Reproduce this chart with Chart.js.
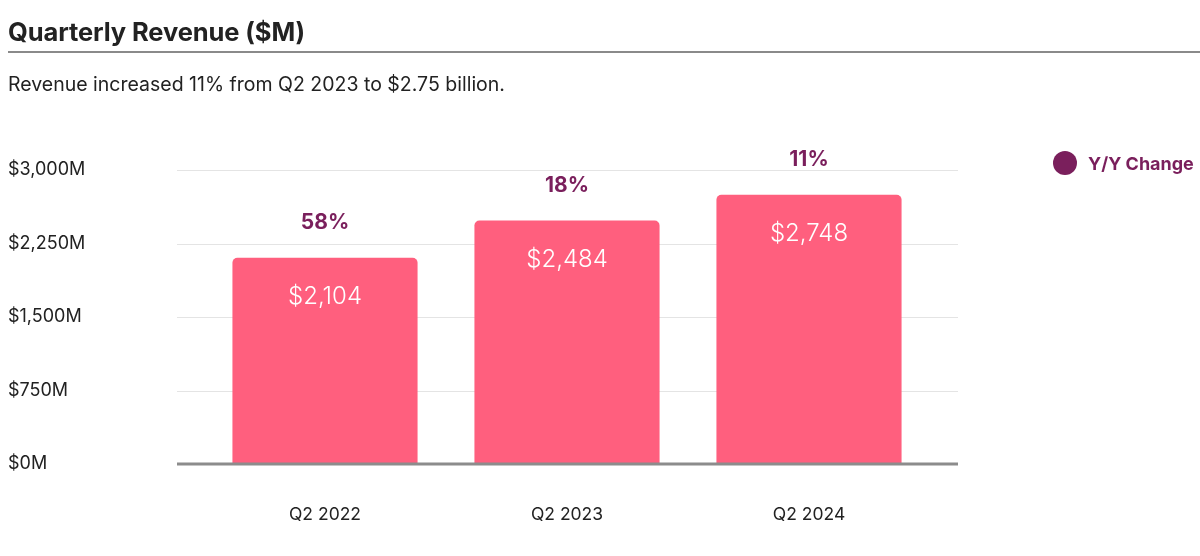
<!DOCTYPE html>
<html>
<head>
<meta charset="utf-8">
<script src="https://cdn.jsdelivr.net/npm/chart.js@4/dist/chart.umd.min.js"></script>
<style>
  html, body { margin: 0; padding: 0; background: #ffffff; width: 1200px; height: 556px; overflow: hidden; font-family: Inter, "Open Sans", sans-serif; }
  #wrap { position: relative; width: 1200px; height: 556px; }
  #title { position: absolute; left: 8px; top: 16px; font-size: 25.5px; font-weight: 700; color: #222222; letter-spacing: -0.1px; }
  #rule { position: absolute; left: 8px; right: 0; top: 51px; height: 2px; background: #8a8a8a; }
  #subtitle { position: absolute; left: 8px; top: 72px; font-size: 19.5px; color: #222222; }
  #legend { position: absolute; left: 1053px; top: 151px; display: flex; align-items: center; font-size: 18px; font-weight: 700; color: #7a1f5c; }
  #legend .dot { width: 24px; height: 24px; border-radius: 50%; background: #7a1f5c; margin-right: 11px; }
  canvas { position: absolute; left: 0; top: 0; }
</style>
</head>
<body>
<div id="wrap">
  <canvas id="c" width="1200" height="556"></canvas>
  <div id="title">Quarterly Revenue ($M)</div>
  <div id="rule"></div>
  <div id="subtitle">Revenue increased 11% from Q2 2023 to $2.75 billion.</div>
  <div id="legend"><span class="dot"></span>Y/Y Change</div>
</div>
<script>
const categories = ["Q2 2022", "Q2 2023", "Q2 2024"];
const revenue = [2104, 2484, 2748];
const yoyChange = [58, 18, 11];
const yTicks = [0, 750, 1500, 2250, 3000];

const FONT = "Inter, 'Open Sans', sans-serif";

const gridPlugin = {
  id: 'extendedGrid',
  beforeDatasetsDraw(chart) {
    const ctx = chart.ctx;
    const y = chart.scales.y;
    const a = chart.chartArea;
    const left = a.left - 27, right = a.right + 28;
    ctx.save();
    yTicks.forEach(v => {
      const py = Math.round(y.getPixelForValue(v)) + 0.5;
      if (v === 0) return;
      ctx.strokeStyle = '#e4e4e4';
      ctx.lineWidth = 1;
      ctx.beginPath(); ctx.moveTo(left, py); ctx.lineTo(right, py); ctx.stroke();
    });
    ctx.restore();
  },
  afterDatasetsDraw(chart) {
    const ctx = chart.ctx;
    const y = chart.scales.y;
    const a = chart.chartArea;
    const left = a.left - 27, right = a.right + 28;
    const py = y.getPixelForValue(0);
    ctx.save();
    ctx.strokeStyle = '#8c8c8c';
    ctx.lineWidth = 3;
    ctx.beginPath(); ctx.moveTo(left, py); ctx.lineTo(right, py); ctx.stroke();
    const meta = chart.getDatasetMeta(0);
    meta.data.forEach((bar, i) => {
      ctx.textAlign = 'center';
      ctx.textBaseline = 'middle';
      ctx.fillStyle = '#ffffff';
      ctx.font = '300 24px ' + FONT;
      ctx.fillText('$' + revenue[i].toLocaleString('en-US'), bar.x, bar.y + 39);
      ctx.fillStyle = '#7a1f5c';
      ctx.font = '700 21px ' + FONT;
      ctx.fillText(yoyChange[i] + '%', bar.x, bar.y - 35);
    });
    ctx.restore();
  }
};

new Chart(document.getElementById('c'), {
  type: 'bar',
  data: {
    labels: categories,
    datasets: [{
      label: 'Revenue',
      data: revenue,
      backgroundColor: '#ff5f7e',
      borderRadius: { topLeft: 5, topRight: 5, bottomLeft: 0, bottomRight: 0 },
      borderSkipped: 'bottom',
      categoryPercentage: 0.765,
      barPercentage: 1.0
    }]
  },
  options: {
    responsive: false,
    animation: false,
    devicePixelRatio: 1,
    layout: { padding: { left: 8, right: 270, top: 170, bottom: 0 } },
    plugins: { legend: { display: false }, tooltip: { enabled: false } },
    scales: {
      x: {
        grid: { display: false, drawTicks: false },
        border: { display: false },
        ticks: { color: '#222222', font: { family: FONT, size: 17.5 }, padding: 40 },
        afterFit(s) { s.height = 92; }
      },
      y: {
        min: 0, max: 3000,
        afterBuildTicks(s) { s.ticks = yTicks.map(v => ({ value: v })); },
        grid: { display: false, drawTicks: false },
        border: { display: false },
        ticks: {
          color: '#222222', crossAlign: 'far', padding: 0,
          font: { family: FONT, size: 18 },
          callback: v => '$' + v.toLocaleString('en-US') + 'M'
        },
        afterFit(s) { s.width = 196; }
      }
    }
  },
  plugins: [gridPlugin]
});
</script>
</body>
</html>
